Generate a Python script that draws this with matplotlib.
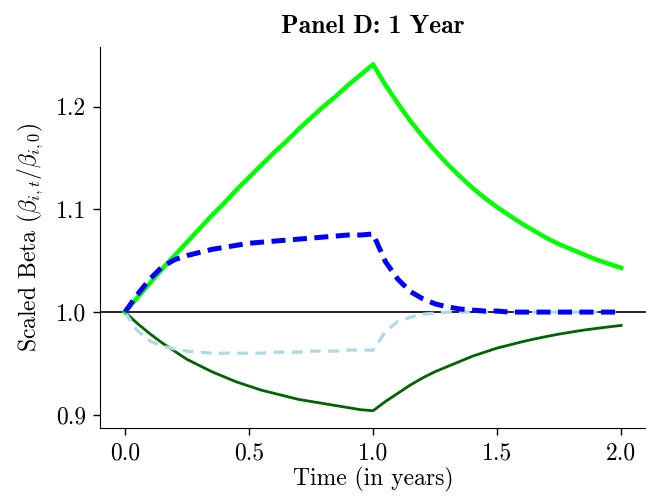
import matplotlib
matplotlib.use("Agg")
import matplotlib.pyplot as plt
import numpy as np

# time grid, steps of 0.05 years
time = np.linspace(0, 2, 41)

# scaled betas
high_solid = [1.000, 1.014, 1.028, 1.042, 1.055, 1.068, 1.081, 1.094, 1.106, 1.119, 1.131,
              1.143, 1.155, 1.166, 1.178, 1.189, 1.200, 1.210, 1.221, 1.231, 1.241,
              1.221, 1.203, 1.186, 1.171, 1.157, 1.144, 1.132, 1.121, 1.111, 1.102,
              1.094, 1.086, 1.079, 1.072, 1.066, 1.061, 1.056, 1.051, 1.047, 1.043]
high_dashed = [1.000, 1.017, 1.032, 1.044, 1.051, 1.055, 1.058, 1.061, 1.063, 1.065, 1.067,
               1.068, 1.069, 1.070, 1.071, 1.072, 1.073, 1.074, 1.075, 1.075, 1.076,
               1.049, 1.032, 1.020, 1.013, 1.008, 1.005, 1.003, 1.002, 1.001, 1.001,
               1.000, 1.000, 1.000, 1.000, 1.000, 1.000, 1.000, 1.000, 1.000, 1.000]
low_dashed = [1.000, 0.982, 0.972, 0.967, 0.964, 0.962, 0.961, 0.960, 0.960, 0.960, 0.960,
              0.960, 0.961, 0.961, 0.961, 0.962, 0.962, 0.962, 0.963, 0.963, 0.963,
              0.981, 0.991, 0.995, 0.998, 0.999, 1.000, 1.000, 1.000, 1.000, 1.000,
              1.000, 1.000, 1.000, 1.000, 1.000, 1.000, 1.000, 1.000, 1.000, 1.000]
low_solid = [1.000, 0.989, 0.979, 0.970, 0.962, 0.954, 0.948, 0.942, 0.937, 0.932, 0.928,
             0.924, 0.921, 0.918, 0.915, 0.913, 0.911, 0.909, 0.907, 0.905, 0.904,
             0.913, 0.921, 0.929, 0.936, 0.942, 0.947, 0.952, 0.957, 0.961, 0.965,
             0.9680, 0.9711, 0.9738, 0.9763, 0.9786, 0.9806, 0.9825, 0.9841, 0.9856, 0.9870]

plt.rcParams['font.family'] = ['cmr10', 'DejaVu Serif']
plt.rcParams['mathtext.fontset'] = 'cm'
plt.rcParams['axes.formatter.use_mathtext'] = True

fig = plt.figure(figsize=(6.46, 4.96), dpi=100)
ax = fig.add_axes([0.155, 0.137, 0.845, 0.768])

ax.axhline(1.0, color='black', lw=1.2, zorder=1)
ax.plot(time, low_solid, color='#006400', lw=2.0)
ax.plot(time, low_dashed, color='#ADD8E6', lw=2.3, dashes=(3.4, 2.3))
ax.plot(time, high_solid, color='#00FF00', lw=3.2)
ax.plot(time, high_dashed, color='#0000FF', lw=3.6, dashes=(2.8, 1.5))

ax.set_xticks([0.0, 0.5, 1.0, 1.5, 2.0])
ax.set_yticks([0.9, 1.0, 1.1, 1.2])
ax.set_xticklabels(['0.0', '0.5', '1.0', '1.5', '2.0'])
ax.set_yticklabels(['0.9', '1.0', '1.1', '1.2'])
ax.tick_params(labelsize=17, length=5, width=1, direction='out', pad=5)

ax.spines['top'].set_visible(False)
ax.spines['right'].set_visible(False)

ax.set_xlabel('Time (in years)', fontsize=17, labelpad=2)
ax.set_ylabel(r'Scaled Beta $(\beta_{i,t}/\beta_{i,0})$', fontsize=17, labelpad=8)
ax.set_title('Panel D: 1 Year', fontsize=18.5, family=['cmb10', 'DejaVu Serif'], pad=10)

fig.savefig('out.png', dpi=100)
